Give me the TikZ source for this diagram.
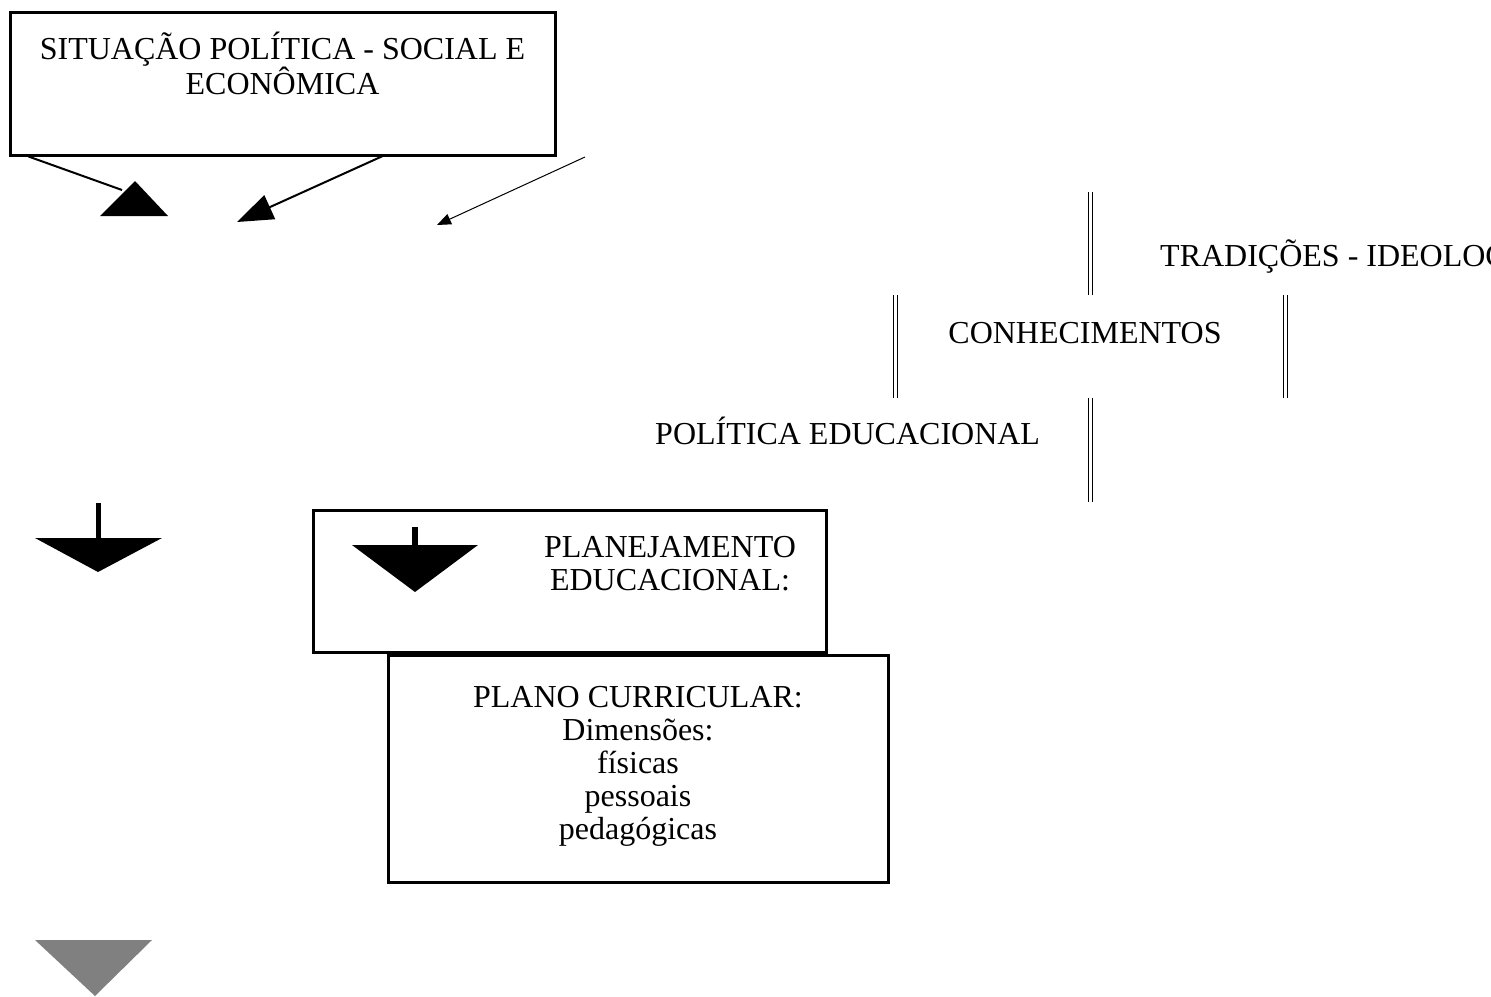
\documentclass[tikz,border=0pt]{standalone}
\usepackage{fontspec}
\setmainfont{Liberation Serif}
\usetikzlibrary{arrows.meta,positioning}

\tikzset{
	txt/.style={inner sep=0pt, font=\fontsize{32}{33}\selectfont},
	bloco/.style={draw, line width=3pt, inner sep=0pt},
	duplo/.style={double, double distance=3pt, line width=1pt},
	seta/.style={fill=black, draw=none}
}

\begin{document}
\begin{tikzpicture}[x=1pt, y=-1pt]
		\useasboundingbox (0,0) rectangle (1491,996);

		\node[bloco, minimum width=545pt, minimum height=143pt] (situacao) at (282.5,83.5) {};
		\node[txt, align=center, anchor=north] (situacaotxt) [below=21pt of situacao.north] {SITUAÇÃO POLÍTICA - SOCIAL E\\ECONÔMICA};

		\node[bloco, minimum width=513pt, minimum height=142pt] (planej) at (569.5,581) {};
		\node[txt, align=center, anchor=north] (planejtxt) at (670,536) {PLANEJAMENTO\\EDUCACIONAL:};

		\node[bloco, minimum width=500pt, minimum height=227pt] (plano) at (638,768.5) {};
		\node[txt, align=center, anchor=north] (planotxt) at (638,686) {PLANO CURRICULAR:\\Dimensões:\\físicas\\pessoais\\pedagógicas};

		\node[txt, anchor=base west] (tradicoes) at (1160,266) {TRADIÇÕES - IDEOLOGIAS};
		\node[txt, anchor=base] (conhec) at (1085,343) {CONHECIMENTOS};
		\node[txt, anchor=base west] (politica) at (655,444) {POLÍTICA EDUCACIONAL};

		\draw[duplo] (1090,192) -- (1090,295);
		\draw[duplo] (895,295) -- (895,398);
		\draw[duplo] (1285,295) -- (1285,398);
		\draw[duplo] (1090,398) -- (1090,502);

		\coordinate (pontaA) at (122,190);
		\coordinate (pontaB) at (237,222);
		\coordinate (pontaC) at (437,225);
		\draw[line width=2pt] (situacao.south west) ++(20,0) coordinate (origA) -- (pontaA);
		\fill[seta] (135,181) -- (168,216) -- (100,216) -- cycle;
		\draw[line width=2pt, -{Triangle[length=36pt,width=26pt]}] (385,155) -- (pontaB);
		\draw[line width=1pt, -{Triangle[length=14pt,width=11pt]}] (585,157) -- (pontaC);

		\draw[line width=5pt] (98,503) -- (98,540);
		\fill[seta] (35,538) -- (162,538) -- (98,572) -- cycle;

		\draw[line width=6pt] (415,527) -- (415,547);
		\fill[seta] (352,545) -- (478,545) -- (415,592) -- cycle;

		\fill[black!50] (35,940) -- (152,940) -- (95,996) -- cycle;

	\end{tikzpicture}
\end{document}
